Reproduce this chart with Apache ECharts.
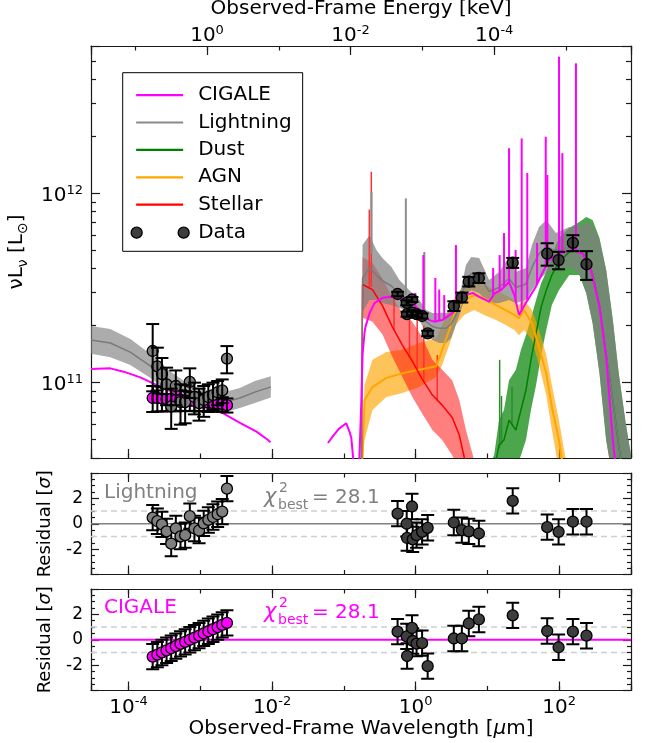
<!DOCTYPE html>
<html>
<head>
<meta charset="utf-8">
<script src="https://cdn.jsdelivr.net/npm/echarts@6.0.0/dist/echarts.min.js"></script>
<style>
  html, body { margin: 0; padding: 0; background: #fff; }
  #chart { width: 645px; height: 743px; }
</style>
</head>
<body>
<div id="chart"></div>
<script>
// values (wavelength in um, nuL_nu in L_sun)
const FONT = 'DejaVu Sans';
const WL_MIN = 3e-5, WL_MAX = 1000;
const HC = 1.2398e-3;            // keV * um
const L_MIN = 4e10, L_MAX = 6e12;

// X-ray points (model dependent)
const xrayWl = [2.17e-4, 2.52e-4, 2.92e-4, 3.39e-4, 3.93e-4, 4.56e-4, 5.30e-4, 6.15e-4, 7.14e-4,
  8.28e-4, 9.61e-4, 1.115e-3, 1.294e-3, 1.502e-3, 1.743e-3, 2.02e-3, 2.35e-3];
const xrayLightning = [1.47e11, 1.22e11, 1.11e11, 9.8e10, 7.5e10, 9.6e10, 7.9e10, 7.9e10, 1.01e11,
  8.4e10, 7.8e10, 8.1e10, 8.4e10, 8.6e10, 8.9e10, 9.1e10, 1.34e11];
const xrayLightningErr = [5.7e10, 3.1e10, 2.4e10, 2.2e10, 1.8e10, 2.0e10, 1.9e10, 1.8e10, 1.8e10,
  1.6e10, 1.5e10, 1.5e10, 1.4e10, 1.4e10, 1.3e10, 1.3e10, 2.2e10];
const xrayCigale = [8.3e10, 8.3e10, 8.25e10, 8.2e10, 8.2e10, 8.1e10, 8.1e10, 8.05e10, 8.0e10,
  8.0e10, 7.9e10, 7.9e10, 7.85e10, 7.8e10, 7.75e10, 7.7e10, 7.6e10];
const xrayCigaleErr = [1.3e10, 1.25e10, 1.2e10, 1.15e10, 1.1e10, 1.05e10, 1.0e10, 0.97e10, 0.93e10,
  0.9e10, 0.86e10, 0.82e10, 0.78e10, 0.75e10, 0.72e10, 0.68e10, 0.65e10];
const resLightningXray = [0.48, 0.2, -0.05, -0.6, -1.57, -0.37, -1.0, -0.9, 0.6, -0.37, -0.53, 0.03,
  0.3, 0.53, 0.75, 0.96, 2.77];
const resCigaleXray = [-1.33, -1.17, -1.0, -0.83, -0.67, -0.5, -0.33, -0.17, 0.0, 0.17, 0.33, 0.5,
  0.67, 0.83, 1.0, 1.17, 1.33];

// UV - far-IR photometry
const sedWl = [0.56, 0.75, 0.76, 0.89, 0.91, 1.03, 1.23, 1.47, 3.4, 4.4, 5.5, 7.6, 22.5, 68, 98, 155, 240];
const sedL = [2.94e11, 2.64e11, 2.30e11, 2.75e11, 2.34e11, 2.30e11, 2.25e11, 1.82e11, 2.54e11,
  2.82e11, 3.42e11, 3.57e11, 4.30e11, 4.80e11, 4.44e11, 5.48e11, 4.22e11];
const sedErr = [0.08e11, 0.08e11, 0.07e11, 0.08e11, 0.07e11, 0.07e11, 0.07e11, 0.06e11, 0.15e11,
  0.17e11, 0.2e11, 0.21e11, 0.26e11, 0.65e11, 0.47e11, 0.53e11, 0.73e11];
const resLightningSed = [0.8, 0.0, -1.12, 1.36, -1.23, -0.9, -0.64, -0.32, 0.1, -0.5, -0.6, -0.77,
  1.8, -0.27, -0.64, 0.16, 0.16];
const resCigaleSed = [0.64, 0.27, -1.28, 0.93, -0.1, -0.3, -0.27, -2.08, 0.1, 0.1, 1.28, 1.6,
  1.92, 0.69, -0.59, 0.64, 0.32];
const RES_ERR = 1;
const chi2 = '28.1';

// model bands: [wl, lo, median, hi]
const lightningXray = [
  [3.0e-5, 1.42e11, 1.68e11, 1.99e11], [5.57e-5, 1.36e11, 1.62e11, 1.92e11],
  [1.06e-4, 1.24e11, 1.45e11, 1.70e11], [2.0e-4, 1.06e11, 1.225e11, 1.42e11],
  [3.8e-4, 8.8e10, 1.007e11, 1.15e11], [7.2e-4, 7.6e10, 8.59e10, 9.7e10],
  [1.36e-3, 7.08e10, 8.0e10, 9.04e10], [2.2e-3, 6.98e10, 7.89e10, 8.92e10],
  [3.56e-3, 7.35e10, 8.3e10, 9.38e10], [5.75e-3, 7.8e10, 8.91e10, 1.02e11],
  [9.6e-3, 8.35e10, 9.5e10, 1.08e11]
];
const lightningBand = [
  [0.175, 3.0e10, 3.0e10, 3.0e10], [0.182, 2.36e11, 3.55e11, 5.33e11], [0.228, 2.73e11, 4.06e11, 6.02e11],
  [0.284, 2.73e11, 3.70e11, 5.02e11], [0.344, 2.63e11, 3.46e11, 4.55e11], [0.46, 2.57e11, 3.24e11, 4.08e11],
  [0.594, 2.48e11, 2.94e11, 3.48e11], [0.817, 2.36e11, 2.70e11, 3.08e11], [1.125, 2.14e11, 2.42e11, 2.73e11],
  [1.40, 1.83e11, 2.10e11, 2.42e11], [1.71, 1.68e11, 1.98e11, 2.33e11], [2.13, 1.62e11, 1.94e11, 2.33e11],
  [2.66, 1.62e11, 1.94e11, 2.33e11], [3.13, 1.72e11, 2.04e11, 2.42e11], [3.64, 2.02e11, 2.28e11, 2.57e11],
  [4.31, 2.42e11, 2.76e11, 3.16e11], [5.02, 2.90e11, 3.48e11, 4.18e11], [5.94, 3.08e11, 3.77e11, 4.61e11],
  [7.67, 2.97e11, 3.68e11, 4.55e11], [10.56, 2.63e11, 3.03e11, 3.48e11], [14.5, 2.63e11, 3.18e11, 3.84e11],
  [20.0, 2.73e11, 3.55e11, 4.61e11], [24.9, 2.63e11, 3.18e11, 3.84e11], [34.4, 2.73e11, 3.32e11, 4.03e11],
  [41.7, 3.08e11, 4.06e11, 5.33e11], [52.3, 3.48e11, 4.80e11, 6.64e11], [66, 3.79e11, 5.24e11, 7.23e11],
  [90, 3.93e11, 4.93e11, 6.17e11], [138, 4.08e11, 5.20e11, 6.64e11], [190, 3.79e11, 5.02e11, 6.64e11],
  [238, 2.97e11, 4.58e11, 7.05e11], [292, 2.06e11, 3.75e11, 6.80e11], [364, 1.12e11, 2.52e11, 5.67e11],
  [451, 4.98e10, 1.40e11, 3.93e11], [558, 3.06e10, 8.09e10, 2.14e11], [675, 1.88e10, 4.6e10, 1.12e11],
  [843, 1.16e10, 2.67e10, 6.12e10], [1000, 7.1e9, 1.72e10, 4.14e10]
];
const stellarBand = [
  [0.175, 3.0e10, 3.0e10, 3.0e10], [0.182, 2.2e11, 3.3e11, 4.6e11], [0.25, 2.1e11, 3.1e11, 4.3e11],
  [0.344, 1.80e11, 2.55e11, 3.55e11], [0.473, 1.37e11, 1.97e11, 2.83e11], [0.653, 1.07e11, 1.58e11, 2.33e11],
  [0.899, 8.39e10, 1.30e11, 2.10e11], [1.22, 6.91e10, 1.05e11, 1.75e11], [1.71, 5.62e10, 8.6e10, 1.32e11],
  [2.34, 4.98e10, 7.61e10, 1.17e11], [3.23, 4.14e10, 6.54e10, 1.03e11], [4.05, 3.45e10, 5.29e10, 8.09e10],
  [5.02, 2.40e10, 3.67e10, 5.62e10], [6.53, 1.88e10, 2.71e10, 3.90e10]
];
const agnBand = [
  [0.176, 3.0e10, 3.0e10, 3.0e10], [0.194, 4.98e10, 8.09e10, 9.71e10], [0.25, 7.17e10, 9.48e10, 1.32e11],
  [0.39, 8.39e10, 1.06e11, 1.45e11], [0.653, 8.81e10, 1.12e11, 1.49e11], [1.125, 9.48e10, 1.17e11, 1.62e11],
  [1.94, 1.07e11, 1.22e11, 1.72e11], [2.34, 1.24e11, 1.49e11, 2.02e11], [2.94, 1.58e11, 1.90e11, 2.42e11],
  [3.64, 2.02e11, 2.42e11, 2.90e11], [4.75, 2.28e11, 2.73e11, 3.28e11], [6.53, 2.42e11, 2.90e11, 3.48e11],
  [9.0, 2.28e11, 2.80e11, 3.28e11], [13.2, 2.14e11, 2.57e11, 3.08e11], [17.7, 2.02e11, 2.42e11, 2.90e11],
  [23.7, 1.90e11, 2.28e11, 2.73e11], [27.5, 1.78e11, 2.19e11, 2.57e11], [32.3, 1.90e11, 2.42e11, 2.73e11],
  [41.7, 1.68e11, 2.06e11, 2.42e11], [52.3, 1.24e11, 1.54e11, 1.90e11], [66, 8.6e10, 1.12e11, 1.40e11],
  [79, 5.62e10, 7.43e10, 9.71e10], [99, 3.45e10, 4.98e10, 6.34e10], [124, 1.88e10, 2.88e10, 3.90e10]
];
const dustBand = [
  [9.0, 2.5e10, 2.8e10, 3.2e10], [12.4, 2.4e10, 3.45e10, 4.14e10], [14.5, 3.06e10, 4.68e10, 6.34e10],
  [17.0, 3.45e10, 4.98e10, 7.17e10], [20.0, 3.90e10, 6.34e10, 1.03e11], [24.9, 3.45e10, 5.62e10, 1.17e11],
  [29.3, 4.14e10, 7.17e10, 1.49e11], [34.4, 4.98e10, 9.14e10, 1.78e11], [40.4, 7.17e10, 1.32e11, 2.19e11],
  [47.6, 9.71e10, 1.83e11, 2.73e11], [56, 1.40e11, 2.51e11, 3.36e11], [66, 1.90e11, 3.08e11, 3.84e11],
  [79, 2.57e11, 3.70e11, 4.72e11], [99, 3.08e11, 4.34e11, 5.80e11], [138, 3.70e11, 4.90e11, 6.56e11],
  [190, 3.70e11, 5.02e11, 7.05e11], [238, 2.97e11, 4.61e11, 7.50e11], [292, 2.06e11, 3.75e11, 7.23e11],
  [364, 1.12e11, 2.54e11, 5.80e11], [451, 4.98e10, 1.40e11, 3.93e11], [558, 3.06e10, 8.09e10, 2.14e11],
  [675, 1.88e10, 4.62e10, 1.12e11], [843, 1.16e10, 2.70e10, 6.12e10], [1000, 7.1e9, 1.72e10, 4.14e10]
];

// CIGALE best fit: [wl, L]
const cigaleXray = [
  [3.0e-5, 1.18e11], [5.57e-5, 1.19e11], [8.53e-5, 1.143e11], [1.46e-4, 1.067e11], [2.48e-4, 9.71e10],
  [4.22e-4, 8.95e10], [7.19e-4, 8.36e10], [1.23e-3, 7.62e10], [2.09e-3, 6.89e10], [3.56e-3, 6.14e10],
  [6.07e-3, 5.51e10], [8.79e-3, 4.98e10], [9.5e-3, 4.85e10]
];
const cigaleSed = [
  [0.060, 4.8e10], [0.070, 5.2e10], [0.085, 5.7e10], [0.108, 6.1e10], [0.120, 5.5e10], [0.127, 5.1e10],
  [0.140, 3.4e10], [0.162, 3.4e10], [0.175, 8.0e10], [0.182, 1.40e11], [0.194, 1.84e11], [0.200, 1.97e11],
  [0.228, 2.33e11], [0.267, 2.63e11], [0.35, 2.81e11], [0.46, 2.84e11], [0.594, 2.80e11], [0.91, 2.63e11],
  [1.125, 2.42e11], [1.55, 2.14e11], [1.82, 2.10e11], [2.34, 2.14e11], [3.23, 2.33e11], [4.05, 2.63e11],
  [5.02, 2.90e11], [6.25, 2.98e11], [7.67, 2.84e11], [10.56, 2.68e11], [12.5, 2.95e11], [15.3, 3.08e11],
  [20.0, 3.40e11], [23.7, 2.90e11], [27.5, 2.28e11], [34.1, 2.63e11], [47.0, 3.20e11], [57.8, 3.77e11],
  [72.0, 4.44e11], [99.4, 4.80e11], [153, 5.02e11], [211, 4.80e11], [277, 3.93e11], [364, 2.52e11],
  [451, 1.37e11], [558, 4.98e10], [620, 3.45e10]
];
// emission lines: [wl, base, peak]
const cigaleLines = [
  [0.99, 2.58e11, 2.98e11], [1.28, 2.33e11, 4.72e11], [1.88, 2.1e11, 3.57e11], [2.13, 2.12e11, 3.1e11],
  [2.5, 2.17e11, 2.9e11], [3.64, 2.48e11, 5.33e11], [12.0, 2.88e11, 4.03e11], [14.8, 3.05e11, 4.72e11],
  [17.0, 3.2e11, 6.17e11], [20.0, 3.4e11, 1.73e12], [24.7, 2.7e11, 5.02e11], [30.0, 2.4e11, 1.95e12],
  [35.9, 2.7e11, 1.28e12], [49.1, 3.3e11, 5.47e11], [64.9, 4.1e11, 1.99e12], [68.3, 4.3e11, 1.25e12],
  [99.4, 4.8e11, 5.27e12], [110.6, 4.85e11, 1.63e12], [171, 5.0e11, 4.86e12]
];
const lightningLines = [[0.243, 4.8e11, 1.02e12], [0.73, 2.9e11, 9.4e11], [1.32, 2.3e11, 4.9e11]];
const stellarLines = [[0.226, 3.2e11, 8.2e11], [0.241, 3.2e11, 1.3e12], [0.50, 1.9e11, 3.0e11],
  [0.82, 1.35e11, 2.5e11], [1.05, 1.15e11, 2.3e11], [1.3, 1.0e11, 2.0e11], [2.0, 8.0e10, 1.4e11]];
const dustLines = [[14.8, 4.5e10, 1.32e11], [15.7, 4.7e10, 8.5e10], [22.0, 6.0e10, 9.5e10]];

// ---------------------------------------------------------------
const frameLine = { color: '#1a1a1a', width: 1.2 };
const supRich = {
  b: { fontSize: 20, lineHeight: 24, fontFamily: FONT, color: '#000' },
  s: { fontSize: 13, lineHeight: 12, verticalAlign: 'top', fontFamily: FONT, color: '#000' }
};
function powFmt(evenOnly) {
  return function (v) {
    const e = Math.log10(v), r = Math.round(e);
    if (Math.abs(e - r) > 1e-6) return '';
    if (evenOnly && r % 2 !== 0) return '';
    return '{b|10}{s|' + r + '}';
  };
}
function logX(grid, pos, base, min, max, len, more) {
  return Object.assign({
    gridIndex: grid, type: 'log', logBase: base, min: min, max: max, position: pos,
    axisLine: { show: base === 10, onZero: false, lineStyle: frameLine },
    axisTick: { show: true, inside: true, length: len, lineStyle: frameLine },
    axisLabel: { show: false },
    splitLine: { show: false }, minorTick: { show: false }, minorSplitLine: { show: false }
  }, more || {});
}
function wlAxes(g, more) {
  return [
    logX(g, 'bottom', 10, WL_MIN, WL_MAX, 4.5),
    logX(g, 'bottom', 100, WL_MIN, WL_MAX, 9, more),
    logX(g, 'top', 10, WL_MIN, WL_MAX, 4.5),
    logX(g, 'top', 100, WL_MIN, WL_MAX, 9)
  ];
}
const xAxes = [
  logX(0, 'bottom', 10, WL_MIN, WL_MAX, 4.5),
  logX(0, 'bottom', 100, WL_MIN, WL_MAX, 9),
  logX(0, 'top', 10, HC / WL_MAX, HC / WL_MIN, 4.5, { inverse: true }),
  logX(0, 'top', 100, HC / WL_MAX, HC / WL_MIN, 9, {
    inverse: true,
    axisLabel: { show: true, formatter: powFmt(true), rich: supRich, margin: -2, color: '#000' },
    name: 'Observed-Frame Energy [keV]', nameLocation: 'middle', nameGap: 23,
    nameTextStyle: { fontSize: 20, fontFamily: FONT, color: '#000' }
  })
].concat(wlAxes(1)).concat(wlAxes(2, {
  axisLabel: { show: true, formatter: powFmt(true), rich: supRich, margin: 5, color: '#000' },
  name: '{n|Observed-Frame Wavelength [}{i|μ}{n|m]}', nameLocation: 'middle', nameGap: 28,
  nameTextStyle: { rich: {
    n: { fontSize: 20, fontFamily: FONT, color: '#000' },
    i: { fontSize: 20, fontFamily: FONT, fontStyle: 'italic', color: '#000' } } }
}));

function mainY(left) {
  return {
    gridIndex: 0, type: 'log', min: L_MIN, max: L_MAX, position: left ? 'left' : 'right',
    axisLine: { show: true, onZero: false, lineStyle: frameLine },
    axisTick: { show: true, inside: true, length: 9, lineStyle: frameLine },
    minorTick: { show: true, splitNumber: 9, length: 5, lineStyle: frameLine },
    splitLine: { show: false }, minorSplitLine: { show: false },
    axisLabel: left ? { formatter: powFmt(false), rich: supRich, margin: 8, padding: [5, 0, 0, 0], color: '#000' } : { show: false },
    name: left ? '{a|νL}{s|ν}{a| [L}{s|⊙}{a|]}' : '', nameLocation: 'middle', nameRotate: 90, nameGap: 59,
    nameTextStyle: { rich: {
      a: { fontSize: 20, lineHeight: 26, fontFamily: FONT, color: '#000' },
      s: { fontSize: 14, lineHeight: 14, verticalAlign: 'bottom', fontFamily: FONT, color: '#000' } } }
  };
}
function residY(g, left) {
  return {
    gridIndex: g, type: 'value', min: -4, max: 4, interval: 2, position: left ? 'left' : 'right',
    axisLine: { show: true, onZero: false, lineStyle: frameLine },
    axisTick: { show: true, inside: true, length: 8, lineStyle: frameLine },
    minorTick: { show: true, splitNumber: 4, length: 4, lineStyle: frameLine },
    splitLine: { show: false }, minorSplitLine: { show: false },
    axisLabel: left ? { formatter: v => Math.abs(v) === 4 ? '' : String(v), fontSize: 17, fontFamily: FONT, color: '#000', margin: 8 } : { show: false },
    name: left ? '{a|Residual [}{i|σ}{a|]}' : '', nameLocation: 'middle', nameRotate: 90, nameGap: 37,
    nameTextStyle: { rich: {
      a: { fontSize: 18, fontFamily: FONT, color: '#000' },
      i: { fontSize: 18, fontFamily: FONT, fontStyle: 'italic', color: '#000' } } }
  };
}
const yAxes = [mainY(true), mainY(false), residY(1, true), residY(1, false), residY(2, true), residY(2, false)];

// ---- series helpers
function band(rows, color, opacity, z) {
  return {
    type: 'custom', xAxisIndex: 0, yAxisIndex: 0, z: z, silent: true, clip: true,
    data: rows, encode: { x: 0, y: 2 },
    renderItem: function (params, api) {
      if (params.dataIndex !== 0) return null;
      const up = rows.map(r => api.coord([r[0], r[3]]));
      const lo = rows.map(r => api.coord([r[0], r[1]])).reverse();
      return { type: 'polygon', shape: { points: up.concat(lo) }, style: { fill: color, opacity: opacity } };
    }
  };
}
function curve(name, pts, color, width, z) {
  return {
    type: 'line', name: name, xAxisIndex: 0, yAxisIndex: 0, data: pts, symbol: 'none', showSymbol: false,
    lineStyle: { color: color, width: width }, itemStyle: { color: color }, z: z, silent: true, clip: true
  };
}
function spikes(rows, color, width, z) {
  return {
    type: 'custom', xAxisIndex: 0, yAxisIndex: 0, z: z, silent: true, clip: true,
    data: rows, encode: { x: 0, y: [1, 2] },
    renderItem: function (params, api) {
      const a = api.coord([api.value(0), api.value(1)]);
      const b = api.coord([api.value(0), api.value(2)]);
      return { type: 'line', shape: { x1: a[0], y1: a[1], x2: b[0], y2: b[1] }, style: { stroke: color, lineWidth: width } };
    }
  };
}
function errbars(xs, ys, es, xi, yi, z) {
  return {
    type: 'custom', xAxisIndex: xi, yAxisIndex: yi, z: z, silent: true, clip: true,
    data: xs.map((x, i) => [x, ys[i], Array.isArray(es) ? es[i] : es]), encode: { x: 0, y: 1 },
    renderItem: function (params, api) {
      const x = api.value(0), y = api.value(1), e = api.value(2);
      const t = api.coord([x, y + e]), b = api.coord([x, y - e]);
      const st = { stroke: '#000', lineWidth: 2 };
      const c = 6.5;
      return { type: 'group', children: [
        { type: 'line', shape: { x1: t[0], y1: t[1], x2: b[0], y2: b[1] }, style: st },
        { type: 'line', shape: { x1: t[0] - c, y1: t[1], x2: t[0] + c, y2: t[1] }, style: st },
        { type: 'line', shape: { x1: b[0] - c, y1: b[1], x2: b[0] + c, y2: b[1] }, style: st }
      ] };
    }
  };
}
function dots(name, xs, ys, color, xi, yi, z) {
  return {
    type: 'scatter', name: name, xAxisIndex: xi, yAxisIndex: yi, z: z, silent: true,
    data: xs.map((x, i) => [x, ys[i]]), symbol: 'circle', symbolSize: 11,
    itemStyle: { color: color, borderColor: '#000', borderWidth: 1.3, opacity: 1 }
  };
}
function refLine(xi, yi, level, color, type, width) {
  return {
    type: 'line', xAxisIndex: xi, yAxisIndex: yi, z: 1, silent: true, symbol: 'none',
    data: [[WL_MIN, level], [WL_MAX, level]],
    lineStyle: { color: color, width: width || 1.5, type: type }
  };
}
const mid = rows => rows.map(r => [r[0], r[2]]);

const series = [
  band(dustBand, '#008000', 0.7, 1),
  band(agnBand, '#ffa500', 0.65, 2),
  band(stellarBand, '#ff0000', 0.5, 3),
  band(lightningBand, '#808080', 0.72, 4),
  band(lightningXray, '#808080', 0.65, 4),
  spikes(dustLines, '#2e8b2e', 1.5, 5),
  spikes(stellarLines, '#ff3030', 1.5, 5),
  spikes(lightningLines, '#8c8c8c', 2, 5),
  curve('Dust', mid(dustBand), '#008000', 1.5, 6),
  curve('AGN', mid(agnBand), '#ffa500', 2, 6),
  curve('Stellar', mid(stellarBand), '#ff0000', 1.5, 6),
  curve('Lightning', mid(lightningBand), '#7a7a7a', 1.5, 6),
  curve('Lightning X-ray', mid(lightningXray), '#7a7a7a', 1.5, 6),
  spikes(cigaleLines, '#ff00ff', 2, 7),
  curve('CIGALE', cigaleSed, '#ff00ff', 2, 7),
  curve('CIGALE X-ray', cigaleXray, '#ff00ff', 2, 7),
  dots('CIGALE X-ray data', xrayWl, xrayCigale, '#ff00ff', 0, 0, 8),
  errbars(xrayWl, xrayCigale, xrayCigaleErr, 0, 0, 8.5),
  dots('Lightning X-ray data', xrayWl, xrayLightning, '#7f7f7f', 0, 0, 9),
  errbars(xrayWl, xrayLightning, xrayLightningErr, 0, 0, 9.5),
  dots('Data', sedWl, sedL, '#3d3d3d', 0, 0, 9),
  errbars(sedWl, sedL, sedErr, 0, 0, 9.5),
  // residuals: Lightning
  refLine(4, 2, 0, '#808080', 'solid'),
  refLine(4, 2, 1, '#cfcfcf', [6, 4]),
  refLine(4, 2, -1, '#cfcfcf', [6, 4]),
  errbars(xrayWl, resLightningXray, RES_ERR, 4, 2, 8),
  dots('res L xray', xrayWl, resLightningXray, '#7f7f7f', 4, 2, 9),
  errbars(sedWl, resLightningSed, RES_ERR, 4, 2, 8),
  dots('res L sed', sedWl, resLightningSed, '#3d3d3d', 4, 2, 9),
  // residuals: CIGALE
  refLine(8, 4, 0, '#ff00ff', 'solid', 2),
  refLine(8, 4, 1, '#cfcfcf', [6, 4]),
  refLine(8, 4, -1, '#cfcfcf', [6, 4]),
  errbars(xrayWl, resCigaleXray, RES_ERR, 8, 4, 8),
  dots('res C xray', xrayWl, resCigaleXray, '#ff00ff', 8, 4, 9),
  errbars(sedWl, resCigaleSed, RES_ERR, 8, 4, 8),
  dots('res C sed', sedWl, resCigaleSed, '#3d3d3d', 8, 4, 9)
];

const LINE_ICON = 'path://M0,0L0.01,0M60,24L59.99,24M6,11L53,11L53,13.2L6,13.2Z';
const DATA_ICON = 'path://M0,0L0.01,0M60,24L59.99,24M1,12A5.5,5.5,0,1,1,12,12A5.5,5.5,0,1,1,1,12ZM48,12A5.5,5.5,0,1,1,59,12A5.5,5.5,0,1,1,48,12Z';
function legItem(name, color) {
  return { name: name, icon: LINE_ICON, itemStyle: { color: color, borderWidth: 0 } };
}

function chi(color, y) {
  const t = (text, x, yy, size, italic) => ({
    type: 'text', x: x, y: yy,
    style: { text: text, fontSize: size, fontFamily: FONT, fontStyle: italic ? 'italic' : 'normal',
      fill: color, verticalAlign: 'middle', textVerticalAlign: 'middle' }
  });
  return { type: 'group', children: [
    t('χ', 264, y, 21, true), t('2', 279, y - 10, 14), t('best', 278, y + 7, 14), t('= ' + chi2, 312, y, 20)
  ] };
}

const chart = echarts.init(document.getElementById('chart'), null, { renderer: 'canvas' });
chart.setOption({
  animation: false,
  backgroundColor: '#fff',
  textStyle: { fontFamily: FONT },
  grid: [
    { left: 91, top: 46, width: 540, height: 412, outerBoundsMode: 'none' },
    { left: 91, top: 473, width: 540, height: 101.5, outerBoundsMode: 'none' },
    { left: 91, top: 589, width: 540, height: 101.5, outerBoundsMode: 'none' }
  ],
  xAxis: xAxes,
  yAxis: yAxes,
  legend: {
    orient: 'vertical', left: 122.7, top: 72.7, padding: [10.3, 11, 6, 6.8], itemGap: 3.4,
    itemWidth: 60, itemHeight: 24, borderColor: '#000', borderWidth: 1, borderRadius: 0,
    backgroundColor: '#fff', z: 20, selectedMode: false,
    textStyle: { fontSize: 20, fontFamily: FONT, color: '#000', padding: [0, 0, 0, 3] },
    data: [
      legItem('CIGALE', '#ff00ff'), legItem('Lightning', '#8a8a8a'), legItem('Dust', '#008000'),
      legItem('AGN', '#ffa500'), legItem('Stellar', '#ff0000'),
      { name: 'Data', icon: DATA_ICON, itemStyle: { color: '#3d3d3d', borderColor: '#000', borderWidth: 1.3 } }
    ]
  },
  graphic: [
    { type: 'text', x: 104, y: 493, style: { text: 'Lightning', fontSize: 20, fontFamily: FONT, fill: '#808080', verticalAlign: 'middle', textVerticalAlign: 'middle' } },
    chi('#808080', 498),
    { type: 'text', x: 104, y: 608, style: { text: 'CIGALE', fontSize: 20, fontFamily: FONT, fill: '#ff00ff', verticalAlign: 'middle', textVerticalAlign: 'middle' } },
    chi('#ff00ff', 613)
  ],
  series: series
});
</script>
</body>
</html>
